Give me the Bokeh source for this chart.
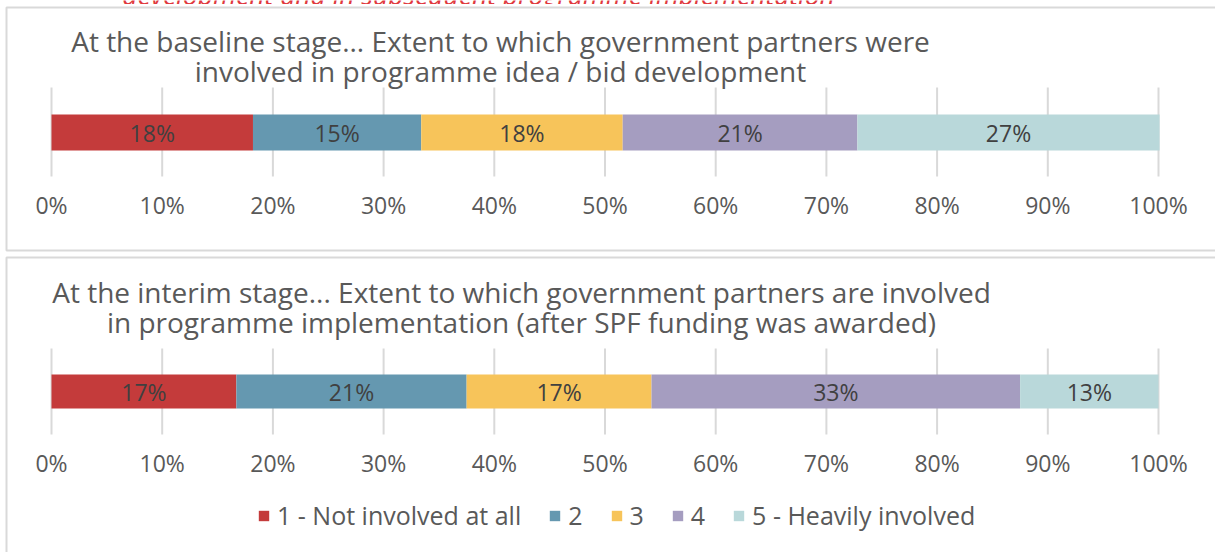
from bokeh.plotting import figure
from bokeh.models import Range1d, FixedTicker, LinearAxis, ColumnDataSource, NumeralTickFormatter
from bokeh.embed import file_html
from bokeh.resources import INLINE
from bokeh.core.properties import value

# ---------------- data ----------------
categories = ["1 - Not involved at all", "2", "3", "4", "5 - Heavily involved"]
colors = ["#C43B3B", "#6598B0", "#F7C45A", "#A59DC0", "#B9D8DA"]
baseline_shares = [0.182, 0.152, 0.182, 0.212, 0.273]
interim_shares = [0.167, 0.208, 0.167, 0.333, 0.125]
baseline_title = ["At the baseline stage... Extent to which government partners were",
                  "involved in programme idea / bid development"]
interim_title = ["At the interim stage... Extent to which government partners are involved",
                 "in programme implementation (after SPF funding was awarded)"]
header_text = "development and in subsequent programme implementation"
tick_values = [0.0, 0.1, 0.2, 0.3, 0.4, 0.5, 0.6, 0.7, 0.8, 0.9, 1.0]

# ---------------- style / layout ----------------
FONT_NAME = "Open Sans"
FONT = value(FONT_NAME)
GREY_TXT = "#595959"
DARK_TXT = "#404040"
GRID = "#D9D9D9"
W, H = 1215, 552
X0, X1 = 51, 1158          # pixel span of 0% .. 100%
SPAN = X1 - X0


def xd(px):
    return (px - X0) / SPAN


p = figure(width=W, height=H, x_range=Range1d(xd(0), xd(W)), y_range=Range1d(H, 0),
           output_backend="svg", toolbar_location=None,
           x_axis_location=None, y_axis_location=None,
           min_border=0, min_border_left=0, min_border_right=0,
           min_border_top=0, min_border_bottom=0)
p.outline_line_color = None
p.xgrid.visible = False
p.ygrid.visible = False
p.background_fill_color = "white"
p.border_fill_color = "white"

# cut-off header text from the page above the chart
p.text(x=[xd(478)], y=[-6], text=[header_text], text_align="center",
       text_baseline="middle", text_font=FONT, text_font_style="italic",
       text_font_size="26.5px", text_color="#E0393E")
p.quad(left=[xd(0)], right=[xd(W)], top=[3.6], bottom=[8], fill_color="white", line_color=None)

panels = [
    dict(shares=baseline_shares, title=baseline_title, tcx=500, tys=(40, 70),
         ptop=7, pbot=250, gtop=87, gbot=176, btop=114, bbot=150, legend=False),
    dict(shares=interim_shares, title=interim_title, tcx=521, tys=(291, 321),
         ptop=257, pbot=600, gtop=348, gbot=434, btop=374, bbot=408, legend=True),
]

for pn in panels:
    # panel background + border
    p.quad(left=[xd(6)], right=[xd(1300)], top=[pn["ptop"]], bottom=[pn["pbot"]],
           fill_color="white", line_color=GRID, line_width=2)
    # vertical gridlines
    p.segment(x0=tick_values, x1=tick_values, y0=[pn["gtop"]] * len(tick_values),
              y1=[pn["gbot"]] * len(tick_values), line_color=GRID, line_width=2)

    lefts, rights, mids, labels = [], [], [], []
    acc = 0.0
    for s in pn["shares"]:
        lefts.append(acc)
        rights.append(acc + s)
        mids.append(acc + s / 2)
        labels.append("%d%%" % int(s * 100 + 0.5))
        acc += s
    yc = (pn["btop"] + pn["bbot"]) / 2
    src = ColumnDataSource(dict(left=lefts, right=rights, mid=mids, label=labels,
                                color=colors, cat=categories, y=[yc] * len(lefts)))
    kw = dict(legend_field="cat") if pn["legend"] else {}
    p.hbar(y="y", left="left", right="right", height=pn["bbot"] - pn["btop"],
           fill_color="color", line_color=None, source=src, **kw)
    p.text(x="mid", y="y", text="label", source=src, text_align="center",
           text_baseline="middle", text_font=FONT, text_font_size="23px", text_color=DARK_TXT)

    p.text(x=[xd(pn["tcx"])] * 2, y=list(pn["tys"]), text=pn["title"], text_align="center",
           text_baseline="middle", text_font=FONT, text_font_size="28px",
           text_color=GREY_TXT)

    ax = LinearAxis(fixed_location=pn["gbot"], ticker=FixedTicker(ticks=tick_values),
                    formatter=NumeralTickFormatter(format="0%"))
    ax.axis_line_color = None
    ax.major_tick_line_color = None
    ax.minor_tick_line_color = None
    ax.major_tick_in = 0
    ax.major_tick_out = 0
    ax.major_label_standoff = 12
    ax.major_label_text_font = FONT_NAME
    ax.major_label_text_font_size = "23px"
    ax.major_label_text_color = GREY_TXT
    p.add_layout(ax, "below")

lg = p.legend[0]
lg.orientation = "horizontal"
lg.location = (257, 20)
lg.label_text_font = FONT_NAME
lg.label_text_font_size = "25px"
lg.label_text_color = GREY_TXT
lg.label_width = 0
lg.glyph_width = 13
lg.glyph_height = 13
lg.label_standoff = 7
lg.spacing = 27
lg.padding = 0
lg.margin = 0
lg.border_line_color = None
lg.background_fill_alpha = 0

open("out.html", "w").write(file_html(p, INLINE))
